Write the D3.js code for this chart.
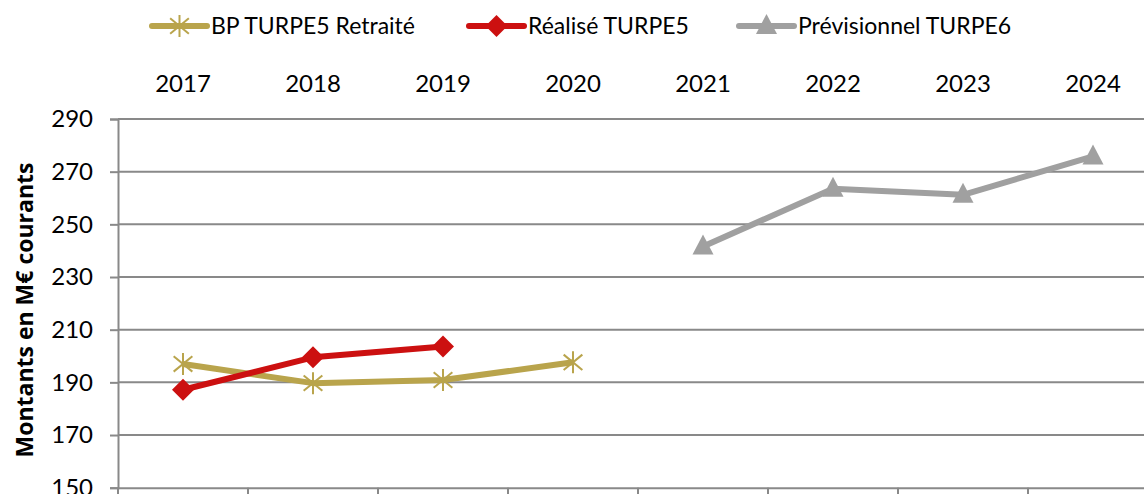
<!DOCTYPE html>
<html>
<head>
<meta charset="utf-8">
<script src="https://cdn.jsdelivr.net/npm/d3@7"></script>
<style>
  html, body { margin: 0; padding: 0; background: #fff; }
  svg { display: block; font-family: Lato, "Open Sans", sans-serif; }
</style>
</head>
<body>
<svg id="chart" width="1144" height="494"></svg>
<script>
// Years on the category axis
const years = ["2017", "2018", "2019", "2020", "2021", "2022", "2023", "2024"];
// Business plan TURPE5 (restated)
const bpYears = ["2017", "2018", "2019", "2020"];
const bpValues = [197.0, 189.7, 190.9, 197.6];
// Actuals TURPE5
const realYears = ["2017", "2018", "2019"];
const realValues = [187.2, 199.5, 203.6];
// Forecast TURPE6
const prevYears = ["2021", "2022", "2023", "2024"];
const prevValues = [241.6, 263.5, 261.2, 275.8];
// Value axis ticks
const yTicks = [150, 170, 190, 210, 230, 250, 270, 290];

const svg = d3.select("#chart");
const left = 118, step = 130;
const x = d3.scaleBand().domain(years).range([left, left + step * years.length]).padding(0);
const y = d3.scaleLinear().domain([150, 290]).range([487.7, 119]);
const cx = d => x(d) + x.bandwidth() / 2;

const gridColor = "#898989";

// Horizontal gridlines
svg.append("g").selectAll("line").data(yTicks.filter(t => t > 150)).join("line")
  .attr("x1", left).attr("x2", 1144)
  .attr("y1", d => y(d)).attr("y2", d => y(d))
  .attr("stroke", gridColor).attr("stroke-width", 2);

// Left value axis
const yAxis = svg.append("g").attr("transform", `translate(${left},0)`)
  .call(d3.axisLeft(y).tickValues(yTicks).tickSize(8).tickPadding(17).tickFormat(d3.format("d")));
yAxis.select(".domain").attr("stroke", gridColor).attr("stroke-width", 2);
yAxis.selectAll(".tick line").attr("stroke", gridColor).attr("stroke-width", 2);
yAxis.selectAll(".tick text").attr("font-size", 24).attr("fill", "#000")
  .attr("font-family", "Lato, sans-serif");

// Bottom category axis (ticks only; labels sit on top)
const xAxis = svg.append("g").attr("transform", `translate(0,${y(150)})`)
  .call(d3.axisBottom(x).tickSize(0).tickFormat(""));
xAxis.select(".domain").attr("stroke", gridColor).attr("stroke-width", 2);
svg.append("g").selectAll("line").data(years).join("line")
  .attr("x1", d => x(d)).attr("x2", d => x(d))
  .attr("y1", y(150)).attr("y2", y(150) + 8)
  .attr("stroke", gridColor).attr("stroke-width", 2);

// Category labels above the plot
svg.append("g").selectAll("text").data(years).join("text")
  .attr("x", d => cx(d)).attr("y", 92)
  .attr("text-anchor", "middle").attr("font-size", 24).attr("fill", "#000")
  .text(d => d);

// Axis title
svg.append("text")
  .attr("transform", "translate(33,310) rotate(-90)")
  .attr("text-anchor", "middle").attr("font-size", 23).attr("font-weight", 700)
  .attr("font-family", "'Open Sans', sans-serif")
  .attr("fill", "#000")
  .text("Montants en M€ courants");

// Marker drawing helpers
function star(g, px, py, color) {
  const r = 11;
  const s = g.append("g").attr("transform", `translate(${px},${py})`)
    .attr("stroke", color).attr("stroke-width", 2);
  s.append("line").attr("x1", 0).attr("y1", -r).attr("x2", 0).attr("y2", r);
  s.append("line").attr("x1", -r * 0.85).attr("y1", -r * 0.7).attr("x2", r * 0.85).attr("y2", r * 0.7);
  s.append("line").attr("x1", -r * 0.85).attr("y1", r * 0.7).attr("x2", r * 0.85).attr("y2", -r * 0.7);
}
function diamond(g, px, py, color) {
  const r = 11;
  g.append("path").attr("d", `M${px},${py - r}L${px + r},${py}L${px},${py + r}L${px - r},${py}Z`)
    .attr("fill", color);
}
function triangle(g, px, py, color) {
  const w = 10.5, h = 20;
  g.append("path").attr("d", `M${px},${py - h * 0.6}L${px + w},${py + h * 0.4}L${px - w},${py + h * 0.4}Z`)
    .attr("fill", color);
}

const series = [
  { name: "BP TURPE5 Retraité", cats: bpYears, vals: bpValues, color: "#b9a44c", marker: star },
  { name: "Réalisé TURPE5", cats: realYears, vals: realValues, color: "#cc1010", marker: diamond },
  { name: "Prévisionnel TURPE6", cats: prevYears, vals: prevValues, color: "#a0a0a0", marker: triangle }
];

const line = d3.line().x(d => cx(d[0])).y(d => y(d[1]));
const plot = svg.append("g");
series.forEach(s => {
  const pts = s.cats.map((c, i) => [c, s.vals[i]]);
  plot.append("path").datum(pts).attr("d", line)
    .attr("fill", "none").attr("stroke", s.color).attr("stroke-width", 6)
    .attr("stroke-linejoin", "round");
  pts.forEach(p => s.marker(plot, cx(p[0]), y(p[1]), s.color));
});

// Legend
const legendX = [152, 469, 739];
series.forEach((s, i) => {
  const g = svg.append("g");
  const lx = legendX[i], ly = 26;
  g.append("line").attr("x1", lx).attr("x2", lx + 55).attr("y1", ly).attr("y2", ly)
    .attr("stroke", s.color).attr("stroke-width", 6).attr("stroke-linecap", "round");
  s.marker(g, lx + 27.5, ly, s.color);
  g.append("text").attr("x", lx + 59).attr("y", ly + 8)
    .attr("font-size", 23).attr("fill", "#000").text(s.name);
});
</script>
</body>
</html>
